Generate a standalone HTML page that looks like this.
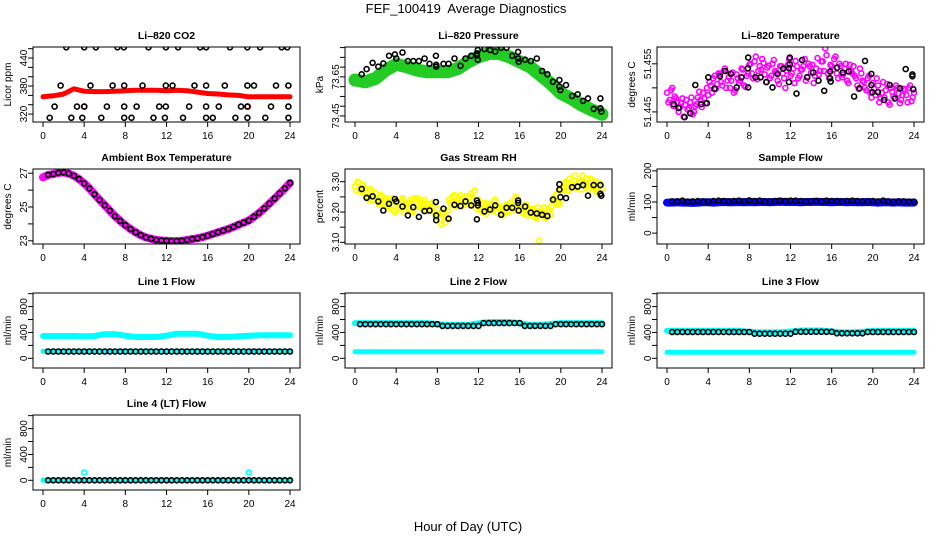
<!DOCTYPE html>
<html><head><meta charset="utf-8"><style>
html,body{margin:0;padding:0;background:#fff;}
svg{display:block;font-family:"Liberation Sans",Arial,sans-serif;}
</style></head><body>
<svg id="chart" xmlns="http://www.w3.org/2000/svg" width="936" height="540" viewBox="0 0 936 540">
<rect x="0" y="0" width="936" height="540" fill="#fff"/>
<text x="466" y="13" font-size="13" text-anchor="middle" style="white-space:pre">FEF_100419  Average Diagnostics</text>
<text x="468" y="531" font-size="13" text-anchor="middle">Hour of Day (UTC)</text>
</svg>
<script>
// ---------- DATA ----------
const hourTicks=[0,4,8,12,16,20,24];
const hourly=[0,1,2,3,4,5,6,7,8,9,10,11,12,13,14,15,16,17,18,19,20,21,22,23,24];
// CO2
const co2Red=[357,359,363,374,369,368,368,369,370,371,371,371,370,371,370,367,364,363,361,360,357,357,357,357,357];
const co2BlackHours=[2.26,4.0,5.14,7.24,7.86,10.25,11.94,13.13,15.27,15.85,18.17,19.86,21.09,23.19,23.74,
1.71,4.62,6.76,7.89,9.67,11.93,12.58,14.72,15.85,17.66,19.86,20.5,22.64,23.84,
1.13,3.3,4.01,6.21,7.89,9.09,11.29,11.93,14.2,15.85,17.08,19.24,19.86,22.15,23.84,
0.65,2.75,3.82,5.66,7.89,8.6,10.74,11.84,13.6,15.85,16.5,18.69,19.86,21.6,23.84];
const co2BlackVals=[463,463,463,463,463,463,463,463,463,463,463,463,463,463,463,
381,381,381,381,381,381,381,381,381,381,381,381,381,381,
336,336,336,336,336,336,336,336,336,336,336,336,336,336,336,
312,312,312,312,312,312,312,312,312,312,312,312,312,312,312];
const co2RedHours=[4.0,19.9];
const co2RedVals=[336,336];
// common circle times
const circleHours=[0.65,1.13,1.71,2.26,2.75,3.3,3.88,4.01,4.62,5.14,5.66,6.21,6.76,7.24,7.86,7.89,7.89,8.6,9.09,9.67,10.25,10.74,11.29,11.84,11.84,11.93,11.93,12.58,13.13,13.62,14.2,14.72,15.27,15.85,15.85,15.91,16.53,17.08,17.66,18.18,18.69,19.24,19.86,19.86,19.96,20.5,21.09,21.64,22.15,22.64,23.19,23.84,23.84,23.93];
// Pressure
const pressGreen=[73.634,73.625,73.642,73.685,73.714,73.702,73.685,73.676,73.676,73.676,73.693,73.727,73.753,73.770,73.770,73.753,73.727,73.702,73.659,73.617,73.566,73.540,73.506,73.481,73.459];
const pressBlack=[73.663,73.690,73.722,73.702,73.719,73.758,73.765,73.744,73.775,73.731,73.731,73.731,73.744,73.717,73.758,73.702,73.712,73.717,73.717,73.744,73.707,73.744,73.758,73.770,73.760,73.787,73.738,73.792,73.787,73.780,73.799,73.799,73.758,73.778,73.744,73.727,73.738,73.731,73.744,73.680,73.663,73.625,73.634,73.600,73.583,73.608,73.552,73.561,73.527,73.540,73.486,73.540,73.489,73.472];
// Li-820 temperature
const tempMagentaA=[51.4490,51.4475,51.4500,51.4482,51.4470,51.4460,51.4478,51.4465,51.4455,51.4470,51.4445,51.4462,51.4480,51.4475,51.4490,51.4468,51.4485,51.4505,51.4520,51.4498,51.4530,51.4512,51.4535,51.4500,51.4522,51.4515,51.4490,51.4528,51.4510,51.4540,51.4505,51.4525,51.4548,51.4530,51.4555,51.4518,51.4545,51.4560,51.4528,51.4542,51.4520,51.4550,51.4535,51.4515,51.4545,51.4530,51.4500,51.4548,51.4525,51.4540,51.4556,51.4520,51.4538,51.4545,51.4515,51.4550,51.4532,51.4510,51.4540,51.4528,51.4555,51.4535,51.4568,51.4520,51.4545,51.4560,51.4530,51.4550,51.4522,51.4540,51.4515,51.4548,51.4530,51.4525,51.4505,51.4540,51.4515,51.4500,51.4520,51.4490,51.4510,51.4485,51.4505,51.4478,51.4512,51.4495,51.4470,51.4500,51.4482,51.4505,51.4488,51.4475,51.4498,51.4485,51.4500,51.4472,51.4490];
const tempMagentaB=[51.4470,51.4495,51.4462,51.4478,51.4450,51.4468,51.4440,51.4475,51.4458,51.4480,51.4450,51.4466,51.4492,51.4460,51.4478,51.4500,51.4512,51.4490,51.4525,51.4508,51.4528,51.4505,51.4540,51.4515,51.4500,51.4532,51.4495,51.4520,51.4515,51.4538,51.4502,51.4530,51.4550,51.4520,51.4565,51.4535,51.4538,51.4552,51.4512,51.4546,51.4525,51.4558,51.4532,51.4508,51.4545,51.4520,51.4536,51.4560,51.4530,51.4510,51.4545,51.4525,51.4538,51.4560,51.4522,51.4545,51.4548,51.4525,51.4562,51.4535,51.4555,51.4582,51.4530,51.4548,51.4538,51.4565,51.4520,51.4545,51.4528,51.4550,51.4510,51.4535,51.4545,51.4520,51.4498,51.4530,51.4512,51.4495,51.4525,51.4480,51.4498,51.4520,51.4470,51.4490,51.4480,51.4508,51.4465,51.4492,51.4478,51.4500,51.4468,51.4485,51.4495,51.4470,51.4505,51.4480];
const tempBlack=[51.4466,51.4458,51.4439,51.4447,51.4506,51.4466,51.4468,51.4522,51.4498,51.4524,51.4535,51.4529,51.4501,51.4522,51.4541,51.4563,51.4501,51.4522,51.4522,51.4512,51.4501,51.4529,51.4540,51.4541,51.4512,51.4563,51.4549,51.4488,51.4558,51.4522,51.4532,51.4515,51.4494,51.4534,51.4520,51.4513,51.4542,51.4532,51.4534,51.4482,51.4499,51.4556,51.4529,51.4506,51.4491,51.4491,51.4475,51.4506,51.4478,51.4499,51.4539,51.4528,51.4524,51.4497];
// Ambient box temperature (every 0.5 h)
const ambientVals=[26.75,26.9,26.95,27.02,27.05,26.98,26.85,26.65,26.4,26.1,25.75,25.42,25.1,24.78,24.45,24.18,23.92,23.7,23.5,23.33,23.2,23.12,23.05,23.02,23.0,22.98,22.98,23.0,23.05,23.1,23.15,23.22,23.3,23.4,23.5,23.6,23.7,23.82,23.95,24.07,24.2,24.42,24.65,24.92,25.2,25.5,25.8,26.1,26.42];
// Gas stream RH
const rhYellowA=[3.285,3.300,3.270,3.290,3.262,3.250,3.275,3.240,3.262,3.235,3.255,3.225,3.245,3.220,3.240,3.205,3.230,3.215,3.235,3.200,3.225,3.230,3.205,3.245,3.220,3.235,3.210,3.240,3.225,3.215,3.230,3.195,3.210,3.175,3.195,3.165,3.205,3.230,3.250,3.220,3.245,3.255,3.230,3.240,3.225,3.260,3.235,3.215,3.240,3.205,3.225,3.195,3.215,3.210,3.235,3.200,3.220,3.195,3.215,3.225,3.205,3.220,3.240,3.205,3.215,3.200,3.220,3.190,3.210,3.205,3.185,3.215,3.195,3.200,3.180,3.210,3.190,3.235,3.255,3.225,3.270,3.285,3.300,3.270,3.290,3.305,3.280,3.295,3.275,3.290,3.310,3.275,3.300,3.285,3.265,3.295,3.275];
const rhYellowB=[3.270,3.295,3.265,3.280,3.260,3.240,3.270,3.250,3.245,3.225,3.250,3.230,3.235,3.215,3.245,3.200,3.230,3.210,3.245,3.215,3.215,3.240,3.200,3.235,3.245,3.220,3.230,3.205,3.225,3.205,3.220,3.185,3.190,3.160,3.200,3.180,3.240,3.225,3.255,3.235,3.245,3.220,3.250,3.235,3.225,3.250,3.270,3.230,3.215,3.200,3.230,3.210,3.225,3.205,3.240,3.215,3.210,3.190,3.220,3.200,3.230,3.210,3.250,3.225,3.210,3.195,3.225,3.205,3.190,3.210,3.180,3.200,3.195,3.215,3.185,3.205,3.220,3.245,3.260,3.230,3.280,3.295,3.270,3.310,3.290,3.320,3.285,3.300,3.320,3.295,3.285,3.310,3.280,3.300,3.270,3.290];
const rhOutlierHours=[17.9];
const rhOutlierVals=[3.105];
const rhBlack=[3.276,3.247,3.252,3.235,3.205,3.227,3.243,3.235,3.218,3.189,3.216,3.184,3.203,3.205,3.233,3.189,3.173,3.211,3.178,3.224,3.220,3.235,3.222,3.176,3.238,3.222,3.230,3.202,3.208,3.222,3.191,3.214,3.214,3.238,3.230,3.205,3.218,3.198,3.195,3.191,3.187,3.241,3.292,3.274,3.249,3.246,3.282,3.284,3.289,3.254,3.289,3.289,3.260,3.254];
// Sample flow
const sampleBlue=[98,98,99,98,98,97,98,99,99,98,99,100,99,99,100,99,100,99,100,100,99,100,101,100,100,100,99,100,100,101,100,100,99,100,100,99,100,99,99,100,99,98,99,99,98,99,98,98,98];
const sampleBlack=[102,102,104,101,102,103,102,101,103,104,103,102,103,104,102,105,103,104,102,102,103,104,103,104,104,103,102,102,103,102,104,103,103,102,103,104,103,102,102,103,102,104,102,101,102,102,101,101];
// Line flows (hourly cyan bands, half-hour black circles)
const line1CyanUpper=[345,345,345,345,340,345,375,375,350,330,330,330,350,380,380,380,350,330,330,340,350,355,355,355,355];
const line1CyanLower=[110,110,110,110,110,110,110,110,110,110,110,110,110,110,110,110,110,110,110,110,110,110,110,110,110];
const line1Black=[105,105,105,105,105,105,105,105,105,105,105,105,105,105,105,105,105,105,105,105,105,105,105,105,105,105,105,105,105,105,105,105,105,105,105,105,105,105,105,105,105,105,105,105,105,105,105,105];
const line2CyanUpper=[545,545,545,545,545,545,545,545,530,515,515,515,540,560,560,560,540,515,515,530,545,545,545,545,545];
const line2CyanLower=[100,100,100,100,100,100,100,100,100,100,100,100,100,100,100,100,100,100,100,100,100,100,100,100,100];
const line2Black=[528,528,528,528,528,528,528,528,528,528,528,528,528,528,528,528,501,501,501,501,501,501,501,501,544,544,544,544,544,544,544,544,501,501,501,501,501,501,528,528,528,528,528,528,528,528,528,528];
const line3CyanUpper=[425,425,425,425,425,425,425,425,410,400,400,400,415,430,430,430,415,400,400,410,425,425,425,425,425];
const line3CyanLower=[95,95,95,95,95,95,95,95,95,95,95,95,95,95,95,95,95,95,95,95,95,95,95,95,95];
const line3Black=[407,407,407,407,407,407,407,407,407,407,407,407,407,407,407,407,381,381,381,381,381,381,381,381,410,410,410,410,410,410,410,410,386,386,386,386,386,386,407,407,407,407,407,407,407,407,407,407];
const line4Cyan=[2,2,2,2,2,2,2,2,2,2,2,2,2,2,2,2,2,2,2,2,2,2,2,2,2];
const line4CyanOutHours=[4,20];
const line4CyanOutVals=[120,120];
const line4Black=[0,0,0,0,0,0,0,0,0,0,0,0,0,0,0,0,0,0,0,0,0,0,0,0,0,0,0,0,0,0,0,0,0,0,0,0,0,0,0,0,0,0,0,0,0,0,0,0];

// ---------- DRAWING ----------
const NS='http://www.w3.org/2000/svg';
const svg=document.getElementById('chart');
function mk(tag,attrs,parent){const e=document.createElementNS(NS,tag);for(const k in attrs)e.setAttribute(k,attrs[k]);(parent||svg).appendChild(e);return e;}
const halfHours=[];for(let i=1;i<=48;i++)halfHours.push(i*0.5);
const halfHours0=[0].concat(halfHours);
const qA=[];for(let i=0;i<=96;i++)qA.push(i*0.25);
const qB=[];for(let i=0;i<96;i++)qB.push(0.125+i*0.25);
let clipN=0;
function panel(id,col,row,title,ylab,ymin,ymax,ticks,labels){
  const L=[33,345,657][col],T=[47,169,293,415][row],W=267,H=75;
  const g=mk('g',{});
  
  
  const xs=h=>L+10+h*247/24;
  const ys=v=>T+H-(v-ymin)/(ymax-ymin)*H;
  const cid='clip'+(clipN++);
  const cp=mk('clipPath',{id:cid},g);
  mk('rect',{x:L,y:T,width:W,height:H},cp);
  const data=mk('g',{'clip-path':'url(#'+cid+')'},g);
  
  
  const fr=mk('rect',{x:L,y:T,width:W,height:H,fill:'none',stroke:'#000','stroke-width':1},g);
  
  
  const t=mk('text',{x:L+W/2,y:T-8,'font-size':10.5,'font-weight':'bold','text-anchor':'middle'},g);
  t.textContent=title;
  
  
  const yl=mk('text',{x:0,y:0,'font-size':10,'text-anchor':'middle',transform:'translate('+(L-22)+','+(T+H/2)+') rotate(-90)'},g);
  yl.textContent=ylab;
  
  
  hourTicks.forEach(h=>{
    const x=xs(h);
    const tk=mk('line',{x1:x,x2:x,y1:T+H,y2:T+H+5,stroke:'#000'},g);
    
    
    const tl=mk('text',{x:x,y:T+H+17,'font-size':10,'text-anchor':'middle'},g);
    tl.textContent=h;
    
    
  });
  ticks.forEach(v=>{
    const y=ys(v);
    const tk=mk('line',{x1:L-5,x2:L,y1:y,y2:y,stroke:'#000'},g);
    
    
  });
  labels.forEach(v=>{
    const y=ys(+v);
    const tl=mk('text',{x:0,y:0,'font-size':10,'text-anchor':'middle',transform:'translate('+(L-6)+','+y+') rotate(-90)'},g);
    tl.textContent=v;
    
    
  });
  return {xs,ys,g:data};
}
function band(p,hours,vals,color,w,name){
  const pts=hours.map((h,i)=>p.xs(h).toFixed(1)+','+p.ys(vals[i]).toFixed(1)).join(' ');
  const pl=mk('polyline',{points:pts,fill:'none',stroke:color,'stroke-width':w,'stroke-linejoin':'round','stroke-linecap':'round'},p.g);
  
  
}
function pts(p,hours,vals,color,name,r,sw){
  hours.forEach((h,i)=>{
    const c=mk('circle',{cx:p.xs(h).toFixed(1),cy:p.ys(vals[i]).toFixed(1),r:r||2.5,fill:'none',stroke:color,'stroke-width':sw||1.6},p.g);
    
    
  });
}
const flowTicks=[0,200,400,600,800,1000],flowLabels=['0','400','800'];

// Li-820 CO2
let p=panel('co2',0,0,'Li\u2013820 CO2','Licor ppm',303,463.6,[320,340,360,380,400,420,440,460],['320','380','440']);
band(p,hourly,co2Red,'#ff0000',5,'co2-red-series');
pts(p,co2RedHours,co2RedVals,'#ff0000','co2-red-point');
pts(p,co2BlackHours,co2BlackVals,'#000','co2-black-point');
// Pressure
p=panel('pressure',1,0,'Li\u2013820 Pressure','kPa',73.419,73.803,[73.45,73.5,73.55,73.6,73.65,73.7,73.75,73.8],['73.45','73.65']);
band(p,hourly,pressGreen,'#22cc22',13,'pressure-green-series');
pts(p,circleHours,pressBlack,'#000','pressure-black-point');
// Temperature
p=panel('li820-temp',2,0,'Li\u2013820 Temperature','degrees C',51.4429,51.4585,[51.445,51.45,51.455],['51.445','51.455']);
pts(p,qA,tempMagentaA,'#ff00ff','temp-magenta-point');
pts(p,qB,tempMagentaB,'#ff00ff','temp-magenta-point');
pts(p,circleHours,tempBlack,'#000','temp-black-point');
// Ambient
p=panel('ambient',0,1,'Ambient Box Temperature','degrees C',22.81,27.25,[23,24,25,26,27],['23','25','27']);
band(p,halfHours0,ambientVals,'#ff00ff',8,'ambient-magenta-series');
pts(p,halfHours,ambientVals.slice(1),'#000','ambient-black-point');
// RH
p=panel('rh',1,1,'Gas Stream RH','percent',3.0945,3.342,[3.1,3.15,3.2,3.25,3.3],['3.10','3.20','3.30']);
pts(p,qA,rhYellowA,'#ffff00','rh-yellow-point',2.6,1.8);
pts(p,qB,rhYellowB,'#ffff00','rh-yellow-point',2.6,1.8);
pts(p,rhOutlierHours,rhOutlierVals,'#ffff00','rh-yellow-outlier');
pts(p,circleHours,rhBlack,'#000','rh-black-point');
// Sample flow
p=panel('sample-flow',2,1,'Sample Flow','ml/min',-35,206,[0,50,100,150,200],['0','100','200']);
band(p,halfHours0,sampleBlue,'#0000ff',8,'sample-blue-series');
pts(p,halfHours,sampleBlack,'#000','sample-black-point');
// Line 1
p=panel('line1',0,2,'Line 1 Flow','ml/min',-150,1010,flowTicks,flowLabels);
band(p,hourly,line1CyanUpper,'#00ffff',6,'line1-cyan-upper');
band(p,hourly,line1CyanLower,'#00ffff',5,'line1-cyan-lower');
pts(p,halfHours,line1Black,'#000','line1-black-point');
// Line 2
p=panel('line2',1,2,'Line 2 Flow','ml/min',-150,1010,flowTicks,flowLabels);
band(p,hourly,line2CyanUpper,'#00ffff',6,'line2-cyan-upper');
band(p,hourly,line2CyanLower,'#00ffff',5,'line2-cyan-lower');
pts(p,halfHours,line2Black,'#000','line2-black-point');
// Line 3
p=panel('line3',2,2,'Line 3 Flow','ml/min',-150,1010,flowTicks,flowLabels);
band(p,hourly,line3CyanUpper,'#00ffff',6,'line3-cyan-upper');
band(p,hourly,line3CyanLower,'#00ffff',5,'line3-cyan-lower');
pts(p,halfHours,line3Black,'#000','line3-black-point');
// Line 4
p=panel('line4',0,3,'Line 4 (LT) Flow','ml/min',-150,1010,flowTicks,flowLabels);
band(p,hourly,line4Cyan,'#00ffff',5,'line4-cyan-series');
pts(p,line4CyanOutHours,line4CyanOutVals,'#00ffff','line4-cyan-outlier');
pts(p,halfHours,line4Black,'#000','line4-black-point');
</script>
</body></html>
